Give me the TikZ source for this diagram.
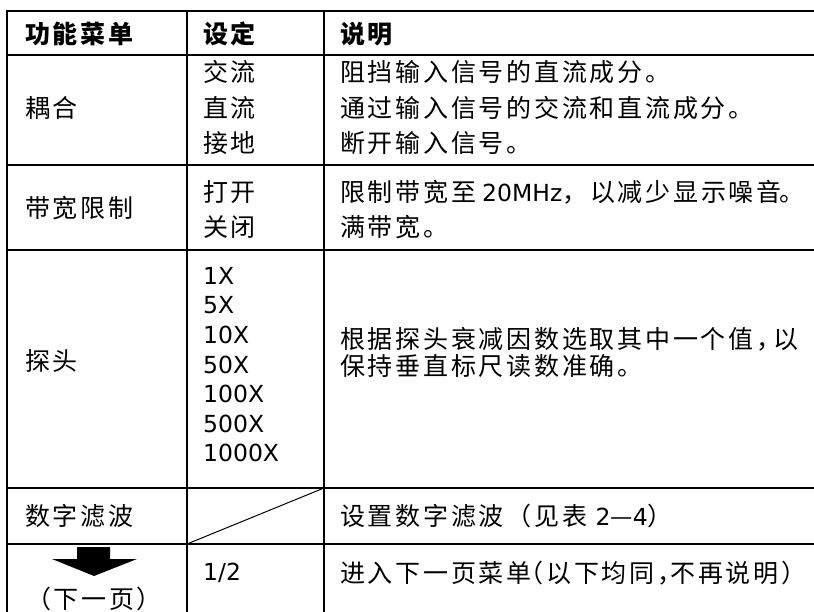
\documentclass[tikz,border=0pt]{standalone}
\usepackage{fontspec}
\newfontfamily\cj[LetterSpace=11]{Noto Sans CJK SC}
\newfontfamily\la{DejaVu Sans}
\newcommand\body{\cj\fontsize{25pt}{29pt}\selectfont}
\newcommand\LA[1]{{\la\fontsize{23.5pt}{27pt}\selectfont #1}}
\begin{document}
\begin{tikzpicture}[x=1pt,y=-1pt,
  grid/.style={line width=2.4pt,black},
  txt/.style={anchor=west,inner sep=0pt,font=\body,text=black},
  hdr/.style={anchor=west,inner sep=0pt,font=\body\bfseries,text=black}]
\useasboundingbox (0,0) rectangle (814,612);
\fill[white] (0,0) rectangle (814,612);
% grid
\draw[grid] (814,11) -- (7,11) -- (7,612);
\draw[grid] (187,11) -- (187,612);
\draw[grid] (324,11) -- (324,612);
\foreach \yy in {55,165,250,488,544} \draw[grid] (7,\yy) -- (814,\yy);
\coordinate (dA) at (187,544);
\coordinate (dB) at (324,488);
\draw[line width=1pt] (dA) -- (dB);
% header
\node[hdr] (h1) at (25,34) {功能菜单};
\node[hdr] (h2) at (203,34) {设定};
\node[hdr] (h3) at (340,34) {说明};
% coupling
\node[txt] (c1) at (25,108) {耦合};
\node[txt] (c2a) at (203,72) {交流};
\node[txt] (c2b) at (203,108) {直流};
\node[txt] (c2c) at (203,143) {接地};
\node[txt] (c3a) at (340,72) {阻挡输入信号的直流成分。};
\node[txt] (c3b) at (340,108) {通过输入信号的交流和直流成分。};
\node[txt] (c3c) at (340,143) {断开输入信号。};
% bandwidth
\node[txt] (b1) at (25,208) {带宽限制};
\node[txt] (b2a) at (203,192) {打开};
\node[txt] (b2b) at (203,227) {关闭};
\node[txt] (b3a) at (340,192) {限制带宽至\kern6pt\LA{20MHz}，以减少显示噪音\kern-2pt。\kern-3pt};
\node[txt] (b3b) at (340,227) {满带宽。};
% probe
\node[txt] (p1) at (25,361) {探头};
\foreach \v [count=\i from 0] in {1X,5X,10X,50X,100X,500X,1000X}
  \node[txt] (p2\i) at (203,{276+29.5*\i}) {\LA{\v}};
\node[txt] (p3a) at (340,339) {根据探头衰减因数选取其中一个值，\kern-8pt以};
\node[txt] (p3b) at (340,366) {保持垂直标尺读数准确。};
% digital filter
\node[txt] (d1) at (25,516) {数字滤波};
\node[txt] (d3) at (340,516) {设置数字滤波（见表 \LA{2}—\LA{4}）};
% next page
\fill (77,547) -- (110,547) -- (110,559) -- (137,559) -- (94,576) -- (52,559) -- (77,559) -- cycle;
\node[txt,anchor=center] (n1) at (94,599) {（下一页）};
\node[txt] (n2) at (203,573) {\LA{1/2}};
\node[txt] (n3) at (340,573) {进入下一页菜单\kern-13pt（以下均同，\kern-12pt不再说明）};
\end{tikzpicture}
\end{document}
